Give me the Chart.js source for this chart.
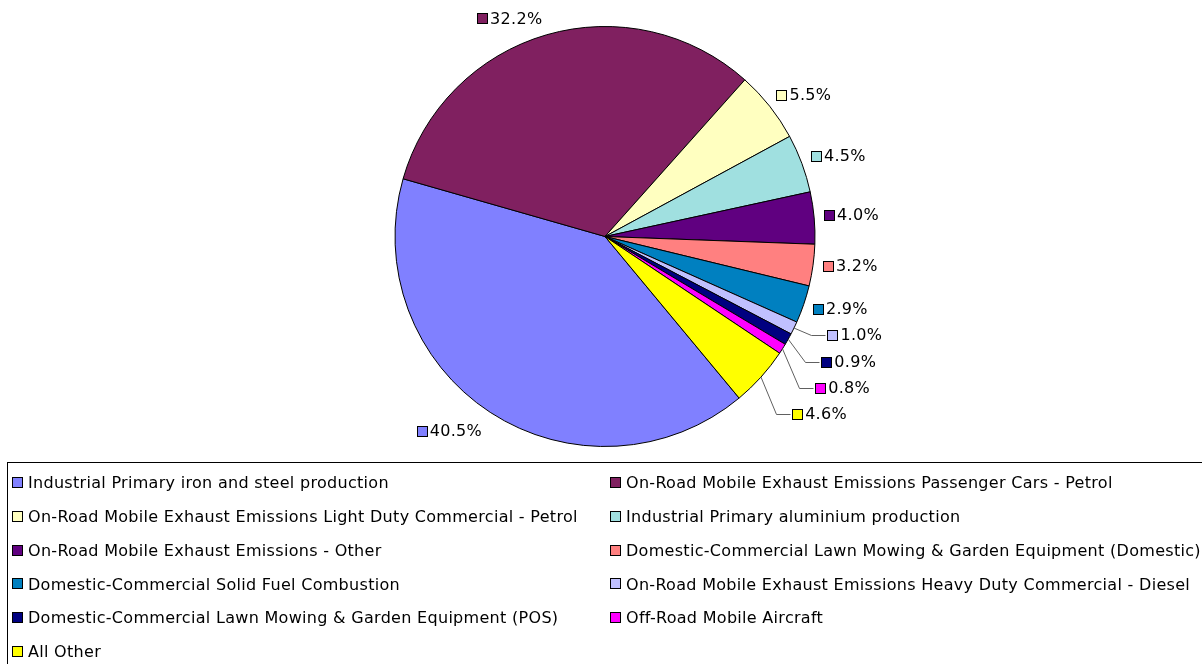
<!DOCTYPE html>
<html lang="en">
<head>
    <meta charset="UTF-8">
    <title>Emission sources pie</title>
    <script src="https://cdn.jsdelivr.net/npm/chart.js"></script>
    <style>
        html, body { margin: 0; padding: 0; background: #fff; }
        #wrap { width: 1202px; height: 664px; }
    </style>
</head>
<body>
    <div id="wrap"><canvas id="pieChart" width="1202" height="664"></canvas></div>

    <script>
        // Source categories, in the order the slices are drawn (clockwise)
        const categories = [
            'Industrial Primary iron and steel production',
            'On-Road Mobile Exhaust Emissions Passenger Cars - Petrol',
            'On-Road Mobile Exhaust Emissions Light Duty Commercial - Petrol',
            'Industrial Primary aluminium production',
            'On-Road Mobile Exhaust Emissions - Other',
            'Domestic-Commercial Lawn Mowing & Garden Equipment (Domestic)',
            'Domestic-Commercial Solid Fuel Combustion',
            'On-Road Mobile Exhaust Emissions Heavy Duty Commercial - Diesel',
            'Domestic-Commercial Lawn Mowing & Garden Equipment (POS)',
            'Off-Road Mobile Aircraft',
            'All Other'
        ];
        // share of total, percent
        const shares = [40.5, 32.2, 5.5, 4.5, 4.0, 3.2, 2.9, 1.0, 0.9, 0.8, 4.6];
        const sliceColors = [
            '#8080FF', '#802060', '#FFFFC0', '#A0E0E0', '#600080', '#FF8080',
            '#0080C0', '#C0C0FF', '#000080', '#FF00FF', '#FFFF00'
        ];

        const FONT = '16px Verdana, "DejaVu Sans", sans-serif';
        const SPACING = '0.3px'; // Verdana runs a bit wider than DejaVu

        // Data labels outside the pie, with a small colour key and leader lines when pushed
        const outsideLabels = {
            id: 'outsideLabels',
            afterDatasetsDraw(chart) {
                const ctx = chart.ctx;
                const arcs = chart.getDatasetMeta(0).data;
                ctx.save();
                ctx.font = FONT;
                ctx.letterSpacing = SPACING;
                ctx.textBaseline = 'middle';

                const items = arcs.map((arc, i) => {
                    const mid = (arc.startAngle + arc.endAngle) / 2;
                    const r = arc.outerRadius;
                    const s = Math.sin(mid);
                    const ax = arc.x + Math.cos(mid) * (r + 15);
                    const ay = arc.y + s * (r + 15);
                    const text = shares[i].toFixed(1) + '%';
                    const w = 13 + ctx.measureText(text).width;
                    const right = Math.cos(mid) >= 0;
                    return {
                        i, mid, text, w, right,
                        ex: arc.x + Math.cos(mid) * r,
                        ey: arc.y + s * r,
                        left: right ? ax - 5 : ax - w,
                        y: right ? ay - 2 + 5 * Math.max(0, s) : ay - 2 + 10 * Math.max(0, s),
                        pushed: false
                    };
                });

                // keep right-hand labels from overlapping (push downwards)
                const rightSide = items.filter(d => d.right).sort((a, b) => a.y - b.y);
                for (let k = 1; k < rightSide.length; k++) {
                    const prev = rightSide[k - 1];
                    const cur = rightSide[k];
                    if (cur.y < prev.y + 26.4) {
                        cur.y = prev.y + 26.4;
                        cur.pushed = true;
                        cur.left += 25;
                    }
                }

                items.forEach(d => {
                    const sx = Math.round(d.left) + 0.5;
                    const sy = Math.round(d.y - 5) + 0.5;
                    if (d.pushed) {
                        ctx.strokeStyle = '#606060';
                        ctx.lineWidth = 1;
                        ctx.beginPath();
                        ctx.moveTo(d.ex, d.ey);
                        ctx.lineTo(sx - 16, sy + 5);
                        ctx.lineTo(sx - 2, sy + 5);
                        ctx.stroke();
                    }
                    ctx.fillStyle = sliceColors[d.i];
                    ctx.fillRect(sx, sy, 10, 10);
                    ctx.strokeStyle = '#000';
                    ctx.lineWidth = 1;
                    ctx.strokeRect(sx, sy, 10, 10);
                    ctx.fillStyle = '#000';
                    ctx.fillText(d.text, d.left + 13, d.y + 1);
                });
                ctx.restore();
            }
        };

        // Boxed two-column legend at the bottom
        const boxLegend = {
            id: 'boxLegend',
            afterDraw(chart) {
                const ctx = chart.ctx;
                ctx.save();
                ctx.strokeStyle = '#000';
                ctx.lineWidth = 1;
                ctx.strokeRect(7.5, 462.5, 1220, 220);
                ctx.font = FONT;
                ctx.letterSpacing = SPACING;
                ctx.textBaseline = 'middle';
                categories.forEach((name, i) => {
                    const col = i % 2;
                    const row = Math.floor(i / 2);
                    const x = col === 0 ? 12 : 610;
                    const y = 483 + row * 33.8;
                    const sy = Math.round(y - 6) + 0.5;
                    ctx.fillStyle = sliceColors[i];
                    ctx.fillRect(x + 0.5, sy, 10, 10);
                    ctx.strokeStyle = '#000';
                    ctx.strokeRect(x + 0.5, sy, 10, 10);
                    ctx.fillStyle = '#000';
                    ctx.fillText(name, x + 16, y + 1);
                });
                ctx.restore();
            }
        };

        window.onload = () => {
            const pieCtx = document.getElementById('pieChart').getContext('2d');
            window.pieChart = new Chart(pieCtx, {
                type: 'pie',
                data: {
                    labels: categories,
                    datasets: [{
                        data: shares,
                        backgroundColor: sliceColors,
                        borderColor: '#000',
                        borderWidth: 1
                    }]
                },
                options: {
                    responsive: false,
                    animation: false,
                    rotation: 140.3,
                    layout: {
                        padding: { top: 26, bottom: 217, left: 394, right: 386 }
                    },
                    plugins: {
                        legend: { display: false },
                        tooltip: { enabled: false }
                    }
                },
                plugins: [outsideLabels, boxLegend]
            });
        };
    </script>
</body>
</html>
